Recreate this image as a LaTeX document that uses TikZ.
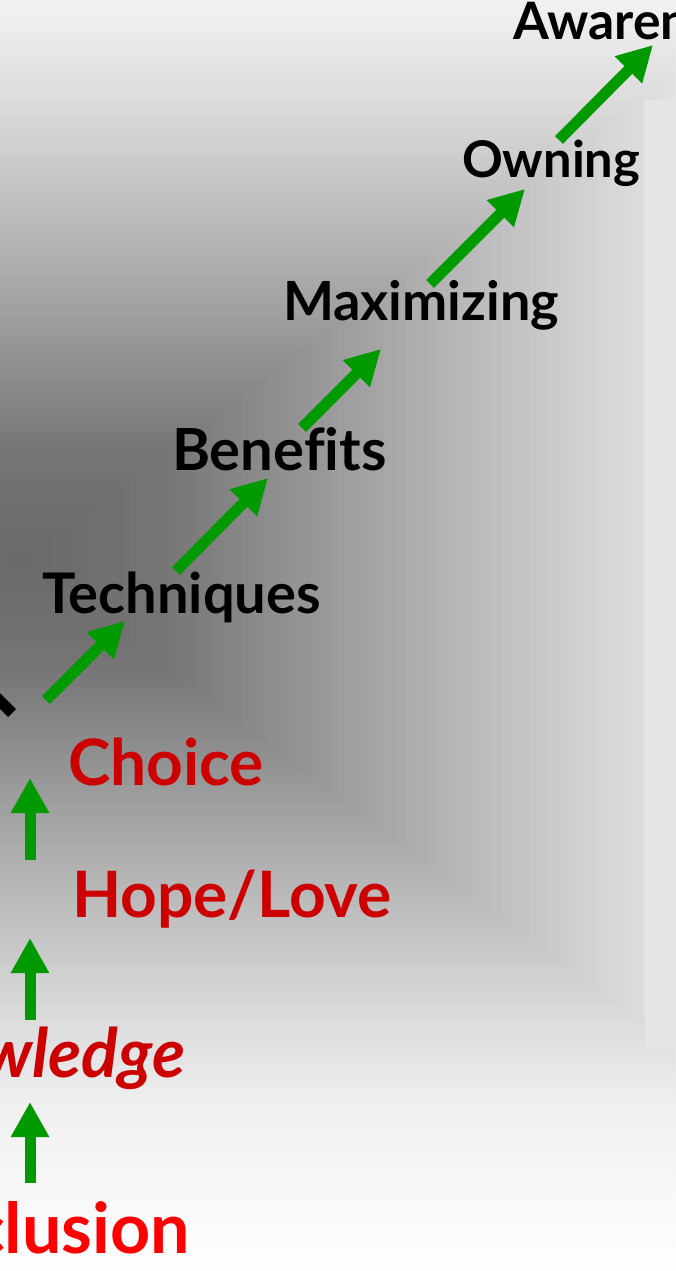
\documentclass[tikz,border=0pt]{standalone}
\usepackage{fontspec}
\setmainfont{Lato}[Ligatures=NoCommon]
\usetikzlibrary{arrows.meta}
\definecolor{grn}{HTML}{009900}
\definecolor{dred}{HTML}{CC0000}
\definecolor{bred}{HTML}{FF0000}
\newcommand\fsz[1]{\fontsize{#1}{#1}\selectfont\bfseries}
\pgfmathdeclarefunction{bgval}{1}{%
  \pgfmathparse{(#1<0.2) ? (0.41+0.05*#1/0.2) :
    ((#1<0.4) ? (0.46+0.13*(#1-0.2)/0.2) :
    ((#1<0.6) ? (0.59+0.13*(#1-0.4)/0.2) :
    ((#1<0.8) ? (0.72+0.12*(#1-0.6)/0.2) :
    ((#1<1.0) ? (0.84+0.10*(#1-0.8)/0.2) :
    min(1,0.94+0.06*(#1-1)/0.3)))))}%
}
\tikzset{
  lbl/.style={anchor=base west, inner sep=0pt, outer sep=0pt},
  lblr/.style={anchor=base east, inner sep=0pt, outer sep=0pt},
  garrow/.style={draw=grn, line width=11pt, line cap=butt, -{Triangle[length=35pt,width=36pt]}},
}
\begin{document}
\begin{tikzpicture}[x=1pt,y=-1pt]
\useasboundingbox (0,0) rectangle (675,1271);
\begin{scope}
\clip (0,0) rectangle (675,1271);
\fill[white] (0,0) rectangle (675,1271);
% rectangular (path) gradient background
\foreach \i in {0,...,130}{
  \pgfmathsetmacro\t{1.3-\i*0.01}
  \pgfmathsetmacro\p{(1-bgval(\t))*100}
  \fill[black!\p] ({20-\t*740},{560-\t*550}) rectangle ({20+\t*740},{560+\t*550});
}
\fill[black!10] (645,100) rectangle (675,1050);
% labels
\node[lbl, font=\fsz{51.6}] (aw) at (513,40) {Awareness};
\node[lbl, font=\fsz{50.6}] (ow) at (462,177) {Owning};
\node[lbl, font=\fsz{54}] (mx) at (283,320) {Maximizing};
\node[lbl, font=\fsz{58}] (bn) at (172,470) {Benefits};
\node[lbl, font=\fsz{56}] (tq) at (42,613) {Techniques};
\node[lbl, font=\fsz{64}, text=dred] (ch) at (68,785) {Choice};
\node[lbl, font=\fsz{64}, text=dred] (hl) at (72,917) {Hope/Love};
\node[lblr, font=\fsz{68}\itshape, text=dred] (kn) at (185,1077) {Knowledge};
\node[lblr, font=\fsz{70}, text=bred] (in) at (190,1253) {Inclusion};
% arrow end points
\coordinate (a1s) at (46,700);  \coordinate (a1e) at (125,621);
\coordinate (a2s) at (176,571); \coordinate (a2e) at (268,478);
\coordinate (a3s) at (302,428); \coordinate (a3e) at (381,349);
\coordinate (a4s) at (430,284); \coordinate (a4e) at (525,189);
\coordinate (a5s) at (559,140); \coordinate (a5e) at (653,45);
\coordinate (v1s) at (30,860);  \coordinate (v1e) at (30,778);
\coordinate (v2s) at (30,1020); \coordinate (v2e) at (30,938);
\coordinate (v3s) at (30,1183); \coordinate (v3e) at (30,1102);
\coordinate (bks) at (-30,671); \coordinate (bke) at (12,713);
\draw[garrow] (a1s) -- (a1e);
\draw[garrow] (a2s) -- (a2e);
\draw[garrow] (a3s) -- (a3e);
\draw[garrow] (a4s) -- (a4e);
\draw[garrow] (a5s) -- (a5e);
\draw[garrow] (v1s) -- (v1e);
\draw[garrow] (v2s) -- (v2e);
\draw[garrow] (v3s) -- (v3e);
\draw[black, line width=11pt] (bks) -- (bke);
\end{scope}
\end{tikzpicture}
\end{document}
